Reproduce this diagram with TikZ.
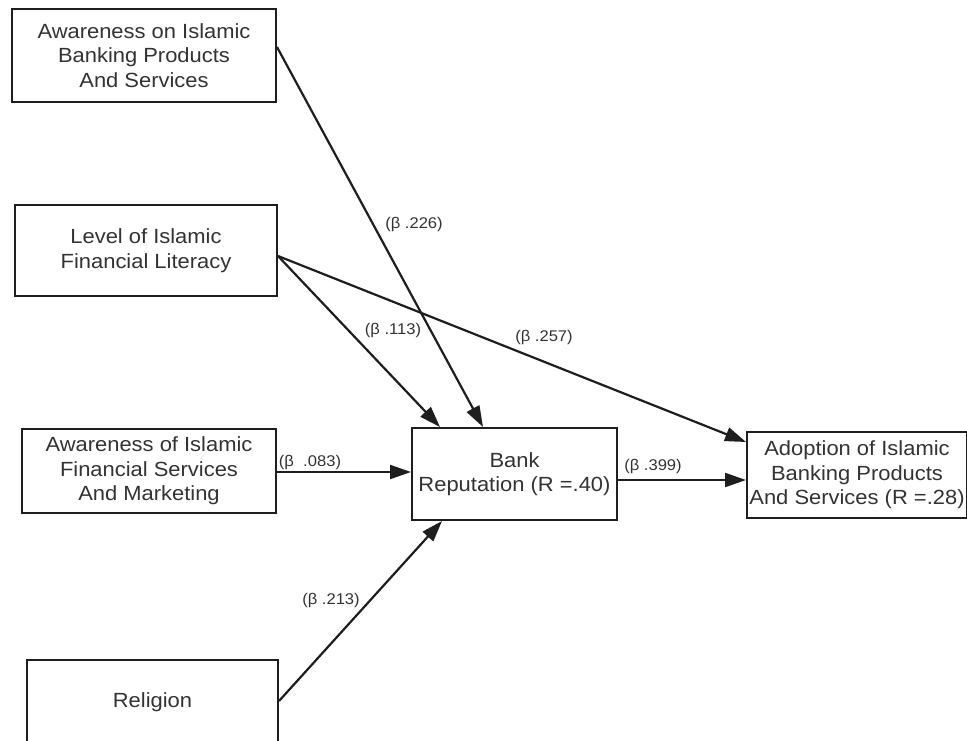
\documentclass[tikz,border=0pt]{standalone}
\usepackage{fontspec}
\setmainfont{Liberation Sans}[FakeStretch=1.07]
\usetikzlibrary{arrows.meta}
\definecolor{txt}{HTML}{333333}
\definecolor{ln}{HTML}{1E1E1E}
\begin{document}
\begin{tikzpicture}[x=1pt,y=-1pt,
  box/.style={draw=ln, line width=2pt, fill=white, align=center, text=txt,
    font=\fontsize{20.5}{24.5}\selectfont, inner sep=0pt},
  conn/.style={draw=ln, line width=2.2pt, -{Triangle[length=21pt,width=14pt]}},
  beta/.style={text=txt, font=\fontsize{15.5}{18}\selectfont, inner sep=0pt}]
\clip (0,0) rectangle (967,740);
\fill[white] (0,0) rectangle (967,740);
% boxes
\node[box, minimum width=264pt, minimum height=93pt] (b1) at (144,55.5)
  {Awareness on Islamic\\Banking Products\\And Services};
\node[box, minimum width=262pt, minimum height=91pt] (b2) at (146,250.5)
  {Level of Islamic\\Financial Literacy};
\node[box, minimum width=254pt, minimum height=84pt] (b3) at (149,471)
  {Awareness of Islamic\\Financial Services\\And Marketing};
\node[box, minimum width=251pt, minimum height=84pt] (rel) at (152.5,702)
  {Religion};
\node[box, minimum width=205pt, minimum height=92pt] (bank) at (514.5,474)
  {Bank\\Reputation (R =.40)};
\node[box, minimum width=220pt, minimum height=86pt] (adopt) at (857,475)
  {Adoption of Islamic\\Banking Products\\And Services (R =.28)};
% connectors
\draw[conn] ([yshift=8.5pt]b1.east) -- ([xshift=-31.5pt]bank.north);
\draw[conn] ([yshift=-5.5pt]b2.east) -- ([xshift=-74.5pt]bank.north);
\draw[conn] ([yshift=-5.5pt]b2.east) -- ([yshift=33pt]adopt.west);
\draw[conn] ([yshift=-1pt]b3.east) -- ([yshift=-1pt]b3.east -| bank.west);
\draw[conn] ([yshift=1pt]rel.east) -- ([xshift=-72.5pt]bank.south);
\draw[conn] ([yshift=-6pt]bank.east) -- ([yshift=-6pt]bank.east -| adopt.west);
% labels
\node[beta] (l1) at (414,224) {(β .226)};
\node[beta] (l2) at (393,330) {(β .113)};
\node[beta] (l3) at (544,337) {(β .257)};
\node[beta] (l4) at (310,462) {(β \ .083)};
\node[beta] (l5) at (653,466) {(β .399)};
\node[beta] (l6) at (331,600) {(β .213)};
\end{tikzpicture}
\end{document}
